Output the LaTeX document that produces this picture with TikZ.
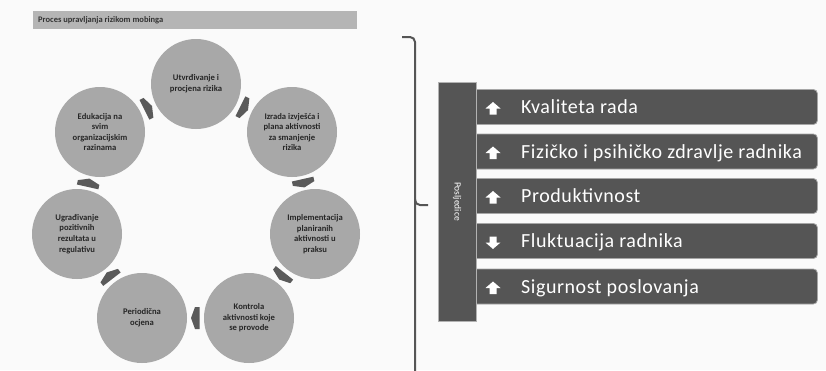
\documentclass[tikz,border=0pt]{standalone}
\usepackage{fontspec}
\setmainfont{Carlito}
\newfontfamily\rowfont[LetterSpace=2.8]{Carlito}
\usetikzlibrary{calc}
\definecolor{circ}{HTML}{A8A8A8}
\definecolor{dark}{HTML}{555555}
\definecolor{arr}{HTML}{5A5A5A}
\definecolor{titlebar}{HTML}{B5B5B5}
\definecolor{bg}{HTML}{FAFAFA}
\begin{document}
\begin{tikzpicture}[x=1pt,y=-1pt,
  stage/.style={circle, fill=circ, minimum size=90pt, inner sep=0pt, align=center,
    font=\fontsize{8.6}{10.6}\selectfont\bfseries, text=black!85},
  row/.style={rounded corners=4pt, fill=dark, draw=black!35, line width=0.8pt,
    minimum width=347pt, minimum height=35pt, anchor=west, inner sep=0pt},
  rowtext/.style={anchor=base west, text=white, font=\rowfont\fontsize{20}{24}\selectfont, inner sep=0pt},
  brace/.style={draw=dark, line width=2pt, rounded corners=5pt}]
\fill[bg] (0,0) rectangle (826,370);
\useasboundingbox (0,0) rectangle (826,370);
% title bar
\node[fill=titlebar, minimum width=324pt, minimum height=18pt, anchor=north west, inner sep=0pt] (title) at (33,11) {};
\node[anchor=west, font=\fontsize{8.5}{10}\selectfont\bfseries, text=black!80, inner sep=0pt] (titletext) at (38,20) {Proces upravljanja rizikom mobinga};
% cycle
\node[stage] (c1) at (196,84) {Utvrđivanje i\\procjena rizika};
\node[stage] (c2) at (292,132) {Izrada izvješća i\\plana aktivnosti\\za smanjenje\\rizika};
\node[stage] (c3) at (315,234) {Implementacija\\planiranih\\aktivnosti u\\praksu};
\node[stage] (c4) at (249,318) {Kontrola\\aktivnosti koje\\se provode};
\node[stage] (c5) at (142,318) {Periodična\\ocjena};
\node[stage] (c6) at (77,234) {Ugrađivanje\\pozitivnih\\rezultata u\\regulativu};
\node[stage] (c7) at (100,132) {Edukacija na\\svim\\organizacijskim\\razinama};
\foreach \a/\b in {c1/c2,c2/c3,c3/c4,c4/c5,c5/c6,c6/c7,c7/c1}{
  \path let \p1=(\a), \p2=(\b), \n1={atan2(\y2-\y1,\x2-\x1)} in
    coordinate (m-\a) at ($(\a)!0.5!(\b)$)
    [fill=arr, shift={(m-\a)}, rotate=\n1]
    (-4,-11) -- (0.5,-11) -- (4.5,0) -- (0.5,11) -- (-4,11) -- cycle;
}
% bracket
\coordinate (btop) at (402,37);
\coordinate (bmid) at (428,205);
\coordinate (bbot) at (415,372);
\draw[brace] (btop) -- (415,37) -- (bbot);
\draw[brace] (415,199) -- (415,205) -- (bmid);
% rows
\foreach \i/\y/\t/\r in {1/107/Kvaliteta rada/0,2/151.5/Fizičko i psihičko zdravlje radnika/0,3/196/Produktivnost/0,4/241/Fluktuacija radnika/180,5/286.5/Sigurnost poslovanja/0}{
  \node[row] (r\i) at (470,\y) {};
  \node[rowtext] (t\i) at (521,\y+6.5) {\t};
  \coordinate (i\i) at (493,\y+1.5);
  \fill[white, shift={(i\i)}, rotate=\r] (0,-6.5) -- (7.5,0) -- (3.5,0) -- (3.5,6) -- (-3.5,6) -- (-3.5,0) -- (-7.5,0) -- cycle;
}
% Posljedice box
\node[fill=dark, draw=black!30, line width=0.6pt, minimum width=38pt, minimum height=239pt, inner sep=0pt] (pos) at (457,201.5) {};
\node[rotate=-90, text=white, font=\fontsize{9.5}{11}\selectfont, inner sep=0pt] (postext) at (457,201.5) {Posljedice};
\end{tikzpicture}
\end{document}
